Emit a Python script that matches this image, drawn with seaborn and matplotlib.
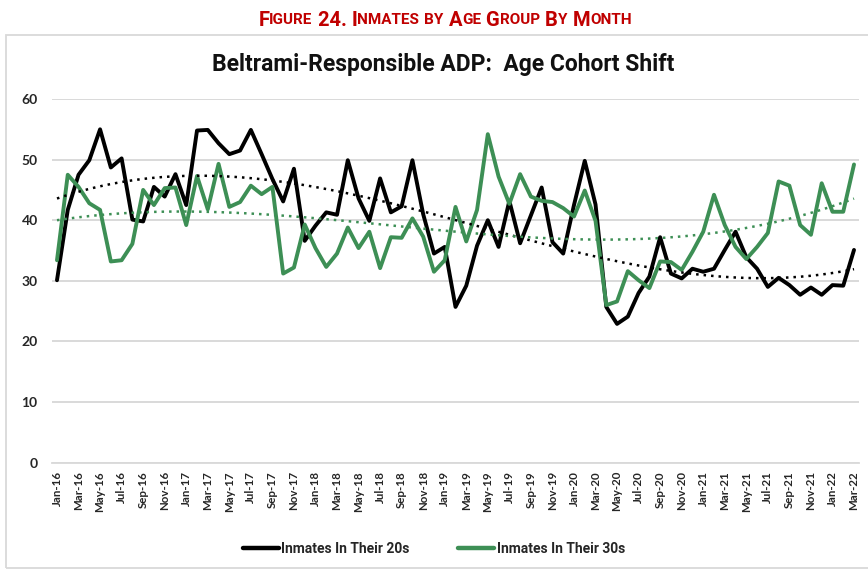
import itertools
import numpy as np
import pandas as pd
import matplotlib.pyplot as plt
import seaborn as sns
from matplotlib.patches import Rectangle
from matplotlib.lines import Line2D

# monthly ADP, Jan-16 .. Mar-22
months = pd.date_range('2016-01-01', '2022-03-01', freq='MS')
month_labels = [d.strftime('%b-%y') for d in months]

twenties = [30.1, 41.7, 47.5, 49.9, 55.0, 48.7, 50.2, 40.1, 39.8, 45.5, 43.9, 47.6,
            42.5, 54.8, 54.9, 52.7, 50.9, 51.5, 54.9, 50.9, 46.8, 43.1, 48.5, 36.6,
            39.1, 41.3, 40.9, 49.9, 43.6, 39.9, 46.9, 41.3, 42.3, 49.9, 41.0, 34.5,
            35.6, 25.7, 29.2, 35.8, 40.0, 35.6, 43.2, 36.2, 40.8, 45.4, 36.4, 34.5,
            42.5, 49.8, 42.6, 25.7, 22.9, 24.1, 28.0, 30.7, 37.2, 31.2, 30.4, 32.0,
            31.5, 32.0, 35.1, 38.1, 33.9, 32.0, 29.0, 30.5, 29.3, 27.7, 28.9, 27.7,
            29.3, 29.2, 35.1]
thirties = [33.4, 47.5, 45.5, 42.8, 41.7, 33.2, 33.4, 36.1, 45.0, 42.5, 45.3, 45.4,
            39.2, 47.3, 41.8, 49.3, 42.2, 43.0, 45.7, 44.3, 45.5, 31.2, 32.2, 39.3,
            35.4, 32.3, 34.5, 38.8, 35.4, 38.1, 32.1, 37.2, 37.1, 40.3, 37.3, 31.5,
            33.4, 42.2, 36.5, 41.7, 54.2, 47.2, 42.7, 47.6, 43.9, 43.2, 43.0, 42.0,
            40.6, 44.9, 39.9, 26.0, 26.6, 31.6, 30.1, 28.8, 33.2, 33.1, 31.8, 34.8,
            38.1, 44.2, 39.2, 35.6, 33.6, 35.6, 37.9, 46.4, 45.7, 39.2, 37.6, 46.1,
            41.4, 41.4, 49.2]

series_names = ['Inmates In Their 20s', 'Inmates In Their 30s']
series_colors = ['#000000', '#3D8F55']
y_ticks = [0, 10, 20, 30, 40, 50, 60]

fig_title = 'Figure 24. Inmates by Age Group By Month'
chart_title = 'Beltrami-Responsible ADP:  Age Cohort Shift'

df = pd.DataFrame({'idx': np.arange(len(months)), 'g20': twenties, 'g30': thirties})
long = df.melt(id_vars='idx', var_name='group', value_name='adp')
long['group'] = long['group'].map({'g20': series_names[0], 'g30': series_names[1]})

sns.set_style('white')
plt.rcParams['font.family'] = ['Roboto', 'DejaVu Sans']

W, H = 868, 571
fig = plt.figure(figsize=(W / 100, H / 100), dpi=100)
ax = fig.add_axes([51.6 / W, 1 - 462.7 / H, (859.4 - 51.6) / W, (462.7 - 99) / H])

# grey frame around the chart
fig.patches.append(Rectangle((6 / W, 1 - 568 / H), 870 / W, 533 / H, transform=fig.transFigure,
                             fill=False, ec='#D9D9D9', lw=1.3))

sns.lineplot(data=long, x='idx', y='adp', hue='group', hue_order=series_names,
             palette=dict(zip(series_names, series_colors)), lw=2.8, ax=ax, legend=False)

# polynomial trend lines
for col, c in zip(['g20', 'g30'], series_colors):
    sns.regplot(data=df, x='idx', y=col, order=3, scatter=False, ci=None, truncate=True,
                line_kws=dict(color=c, ls=(0, (1, 2)), lw=1.8), ax=ax)

ax.set_xlim(-0.5, len(months) - 0.5)
ax.set_ylim(0, 60)
ax.set_yticks(y_ticks)
ax.set_yticklabels([str(v) for v in y_ticks], fontweight='bold', fontsize=10, family='Lato')
ax.set_xticks(df['idx'][::2])
ax.set_xticklabels(month_labels[::2], rotation=90, fontweight='bold', fontsize=8.3, family='Lato')
ax.set_xticks(np.arange(-0.5, len(months), 1), minor=True)
ax.tick_params(axis='x', which='major', length=0, pad=6)
ax.tick_params(axis='x', which='minor', length=4, color='#D9D9D9', width=1)
ax.tick_params(axis='y', length=0, pad=10)
ax.set_xlabel('')
ax.set_ylabel('')
ax.yaxis.grid(True, color='#D9D9D9', lw=1.4)
ax.set_axisbelow(True)
for s in ['top', 'right', 'left']:
    ax.spines[s].set_visible(False)
ax.spines['bottom'].set_color('#D9D9D9')
ax.spines['bottom'].set_linewidth(1.3)

fig.text(443 / W, 1 - 65 / H, chart_title, ha='center', va='center',
         fontsize=16.5, fontweight='bold', color='#111111')

# small-caps figure title
renderer = fig.canvas.get_renderer()
pieces = []
for is_low, grp in itertools.groupby(fig_title, key=str.islower):
    t = fig.text(0, 1 - 20 / H, ''.join(grp).upper(), va='center', ha='left',
                 fontsize=11 if is_low else 14.5, fontweight='bold', color='#C00000')
    pieces.append(t)
widths = [p.get_window_extent(renderer).width for p in pieces]
x = 445 - sum(widths) / 2
for p, w in zip(pieces, widths):
    p.set_x(x / W)
    x += w

handles = [Line2D([], [], color=c, lw=3.2) for c in series_colors]
fig.legend(handles, series_names, loc='center', bbox_to_anchor=(434 / W, 1 - 549 / H), ncol=2,
           frameon=False, handlelength=2.6, handletextpad=0.15, columnspacing=3.5,
           prop=dict(size=10, weight='bold'))

fig.savefig('out.png', dpi=100)
